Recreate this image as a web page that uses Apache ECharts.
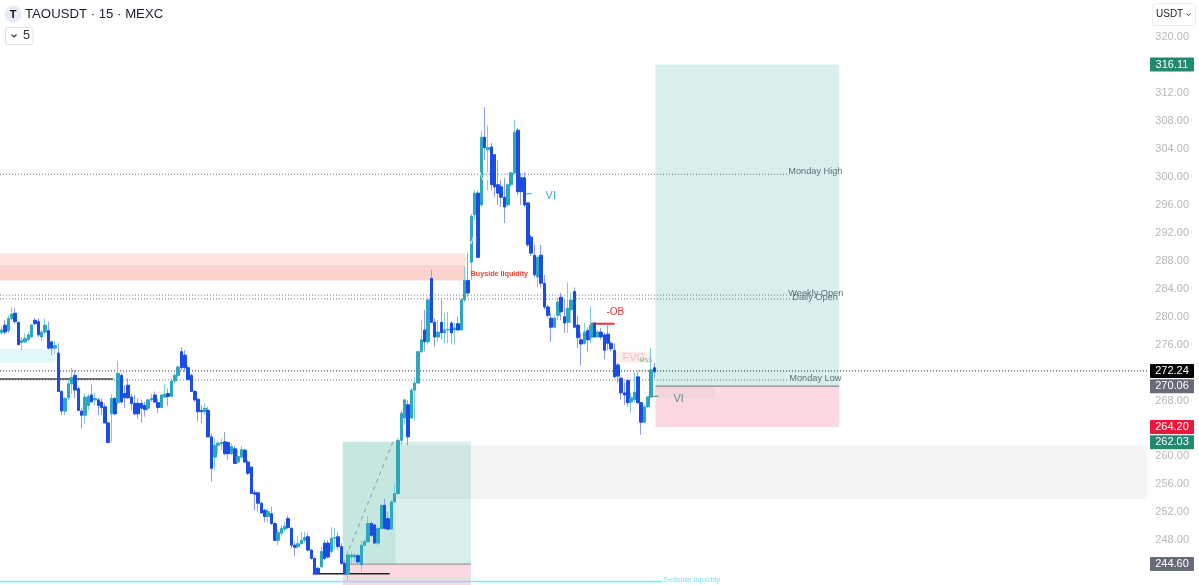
<!DOCTYPE html>
<html><head><meta charset="utf-8">
<script src="https://cdn.jsdelivr.net/npm/echarts@6/dist/echarts.min.js"></script>
<style>html,body{margin:0;padding:0;background:#fff}#c{width:1199px;height:585px}</style>
</head><body><div id="c"></div>
<script>
const opens=[277.7,278.8,278.0,279.75,280.5,279.2,276.3,276.4,276.7,277.1,
279.5,279.3,277.1,277.8,278.0,276.4,275.5,274.8,269.3,266.5,
268.4,270.4,271.6,269.7,266.5,265.9,267.3,268.8,268.1,268.1,
267.8,267.1,264.8,266.1,268.3,267.7,271.6,269.0,270.2,268.5,
267.6,267.6,267.6,267.3,266.9,268.1,268.8,267.7,267.0,268.5,
269.0,268.6,270.8,271.6,275.0,274.5,272.7,271.6,269.3,268.2,
266.6,266.4,266.6,262.8,259.9,261.6,261.8,262.1,262.0,260.4,
261.1,259.2,259.9,260.9,259.2,258.5,254.8,254.8,253.3,252.3,
251.4,251.8,250.4,248.0,249.0,249.6,251.1,249.7,247.3,247.1,
247.5,248.0,248.5,246.6,245.4,244.0,244.2,247.6,247.6,246.4,
248.3,248.5,247.1,244.7,243.2,245.6,245.6,245.8,244.5,247.3,
247.8,250.4,250.2,247.6,249.7,253.0,251.1,249.6,253.5,254.7,
262.3,265.5,267.4,265.5,269.5,270.5,275.0,278.1,276.4,285.5,
279.2,277.1,279.2,277.7,278.1,279.1,278.1,279.0,278.1,282.4,
285.2,287.8,294.6,297.7,296.0,305.7,303.9,304.3,303.2,298.9,
298.6,297.1,296.0,298.9,300.6,306.7,299.9,299.9,296.3,291.4,
288.8,285.7,288.8,284.8,281.4,279.8,278.5,280.2,282.8,280.0,
279.2,281.0,283.6,278.8,276.7,276.2,278.0,277.0,279.1,277.1,
277.8,277.4,277.5,276.2,275.2,273.1,271.2,269.1,270.9,267.8,
268.1,271.4,267.7,264.9,267.1,268.5,272.7];
const closes=[278.1,277.8,279.75,280.4,279.3,276.0,276.6,276.9,277.4,278.8,
279.0,277.4,277.8,278.8,275.5,275.5,275.9,269.3,266.5,268.3,
270.4,271.3,269.5,266.6,265.9,268.5,268.6,267.8,268.3,267.3,
267.0,264.8,262.0,268.3,266.1,271.9,267.8,268.4,268.4,267.6,
266.1,266.1,266.9,266.7,268.1,268.3,267.8,267.0,268.8,268.9,
268.6,270.8,271.6,272.8,272.7,272.7,271.0,269.3,268.1,266.4,
266.4,266.9,262.8,258.3,261.6,261.9,262.0,260.4,260.4,261.4,
259.0,260.0,261.0,259.2,257.6,254.7,254.6,253.3,251.9,251.4,
252.1,250.4,248.0,249.1,249.7,250.0,249.8,247.3,247.0,247.5,
248.0,248.4,246.6,245.4,243.2,243.2,246.4,245.4,245.6,248.3,
248.4,247.1,244.7,243.2,245.9,245.9,245.9,244.9,247.3,247.8,
250.4,248.7,247.6,249.7,253.0,249.7,249.6,253.5,254.7,262.3,
266.2,268.1,262.8,269.5,270.5,275.0,276.7,276.4,282.4,279.2,
277.1,277.8,277.7,278.1,278.2,277.7,278.4,278.1,282.4,285.2,
283.4,294.4,297.7,288.5,305.7,304.2,304.2,298.9,298.6,297.7,
297.1,295.7,298.9,300.6,306.4,297.9,297.9,296.0,290.3,289.1,
286.0,288.5,284.8,281.4,280.2,278.5,279.8,282.1,280.7,279.1,
281.2,282.4,278.5,277.0,276.1,277.8,276.7,278.8,277.1,277.8,
277.1,275.2,276.2,275.4,271.4,271.5,269.1,268.8,267.7,268.4,
269.2,267.7,264.9,267.1,268.5,272.4,272.1];
const highs=[278.6,279.5,280.2,281.4,281.2,279.3,277.1,277.6,277.8,279.0,
279.75,279.75,278.1,279.75,279.3,276.6,276.6,276.2,269.5,268.5,
270.9,272.7,272.4,270.0,266.9,269.0,269.0,270.3,269.1,268.4,
268.3,267.6,265.0,268.9,268.5,273.7,271.9,270.2,271.2,269.0,
268.8,268.3,268.1,267.8,268.2,269.0,269.3,268.3,269.0,270.4,
269.7,271.2,271.9,273.1,275.6,275.2,273.1,271.9,269.5,268.3,
267.3,267.6,267.1,263.3,262.6,262.1,262.6,263.5,262.1,261.9,
261.5,260.9,261.5,261.1,259.5,258.5,255.2,254.9,253.5,252.5,
252.5,252.8,250.6,249.5,250.2,250.6,251.5,249.9,247.8,248.5,
249.2,249.2,249.0,246.8,245.6,244.2,247.1,248.0,248.0,249.9,
249.7,249.2,247.6,244.9,246.6,246.4,246.1,246.1,248.0,248.3,
251.4,250.7,250.4,250.0,253.3,254.0,252.1,253.8,256.1,262.6,
266.6,268.2,268.1,269.8,271.4,275.0,279.5,281.0,282.7,286.7,
279.8,279.5,282.7,280.5,280.7,279.4,279.2,280.0,282.7,287.1,
289.1,294.7,298.1,298.1,306.6,310.0,307.4,304.9,303.2,302.4,
299.6,299.9,299.1,300.7,308.2,307.0,300.6,300.7,296.3,291.7,
290.3,288.8,290.3,286.0,281.7,280.5,280.2,282.7,283.4,282.4,
284.9,283.5,284.2,280.2,277.7,279.1,278.5,281.5,279.2,278.1,
278.4,277.7,278.8,276.5,276.2,273.4,271.4,270.6,270.9,269.1,
272.1,272.1,267.8,267.4,268.6,275.5,273.4];
const lows=[277.4,277.4,277.7,279.5,279.0,275.9,275.2,276.2,276.6,276.9,
278.8,277.1,276.6,277.4,275.3,274.5,274.7,269.3,265.9,265.9,
268.1,269.0,268.3,266.5,264.0,264.7,266.6,267.7,267.3,265.9,
265.9,264.7,261.9,262.0,265.9,267.3,267.6,266.9,268.3,266.6,
265.9,265.4,264.8,265.7,266.5,267.8,267.6,266.2,266.9,268.3,
267.2,268.5,270.4,271.3,272.4,272.1,270.9,269.3,267.8,265.0,
264.8,265.9,262.7,256.4,258.0,260.4,260.9,260.2,259.5,260.2,
258.9,259.0,259.7,259.1,257.3,254.7,252.3,252.1,251.8,250.6,
250.6,250.2,247.9,247.3,248.5,249.2,249.7,246.8,245.7,246.8,
247.6,247.6,246.4,245.2,243.0,243.0,244.0,245.2,245.4,246.1,
246.6,246.6,244.5,243.0,242.3,244.7,244.9,244.6,243.5,247.1,
247.6,248.5,247.5,247.3,249.5,249.5,249.4,249.5,253.3,254.5,
261.6,264.5,261.6,265.5,265.1,270.5,274.8,275.0,276.0,279.1,
275.7,276.4,276.7,276.2,276.2,276.2,276.0,278.0,278.0,282.1,
282.8,285.2,293.8,288.4,295.7,302.4,298.1,298.1,297.1,296.0,
295.7,293.4,295.7,298.6,300.3,297.4,296.0,295.7,290.0,288.7,
285.7,284.2,284.2,281.0,279.8,276.4,278.4,279.5,279.5,277.7,
277.7,279.1,278.4,275.5,273.0,276.0,275.0,276.2,277.0,277.0,
276.7,273.9,275.2,275.0,271.2,270.5,268.1,267.4,267.1,266.2,
267.7,267.5,263.1,264.8,266.9,268.4,271.2];

// price scale and bar-count of the axis
const priceMin=240, priceMax=328, priceStep=4, totalBars=360;

// rectangles: bar index from/to, price from/to
const zoneStart=[0,0,0,118.8,102.9,118.8,102.9,196.8,196.8,196.8,184.2];
const zoneEnd=[16.5,139.8,139.8,344.4,118.8,141.4,141.4,252,252,214.5,195.8];
const zoneHigh=[275.4,289.1,287.4,261.6,262.1,262.1,244.6,316.11,270.06,270.06,275.0];
const zoneLow=[273.4,287.4,285.2,253.9,244.6,244.6,241.6,270.06,264.2,268.4,273.4];

// segments: bar index from/to, price from/to
const segStartBar=[0,0,0,0,0,0,93.9,0,177.3,102.9,196.8,157,194.4,103,191.5];
const segEndBar=[236.5,236.5,238,236.7,345,34,117,199,184.5,141.4,252,159.6,197.7,118,196.5];
const segStartPrice=[300.4,283.1,282.55,270.95,272.24,271.1,243.2,242.1,279.0,244.6,270.06,297.6,268.6,244.6,272.24];
const segEndPrice=[300.4,283.1,282.55,270.95,272.24,271.1,243.2,242.1,279.0,244.6,270.06,297.6,268.6,262.1,272.24];

// annotation labels
const noteText=['VI','VI','Monday High','Weekly Open','Daily Open','Monday Low','Buyside liquidity','Sellside liquidity','VI','VI','-OB','FVG','MSS'];
const noteBar=[144,140.4,236.7,236.7,237.9,237,141.3,199.2,163.8,202.2,182.1,186.9,192];
const notePrice=[300,290.8,300.8,283.3,282.8,271.2,286.1,242.3,297.3,268.2,280.7,274.1,273.7];

// price badges on the right-hand scale
const badgeValues=[316.11,272.24,270.06,264.20,262.03,244.60];

const UP='#2da7bd', DOWN='#1c4de2', UPW='#7fcdd8', DOWNW='#8e9ff0';
const FONT='"Liberation Sans",Arial,sans-serif';
const zoneFill=['#e3f8fb','#fde4e0','#fcd3cc','#f4f4f4','rgba(38,166,140,0.27)','rgba(38,166,154,0.18)','#fbd9e0','rgba(38,166,154,0.18)','#fbd9e0','#f0d6da','#fdeeee'];
const zoneOrder=[3,0,1,2,4,5,6,7,8,9,10];
const segStyle=[
 {stroke:'#777',lineWidth:1,lineDash:[1,2]},{stroke:'#777',lineWidth:1,lineDash:[1,2]},
 {stroke:'#777',lineWidth:1,lineDash:[1,2]},{stroke:'#777',lineWidth:1,lineDash:[1,2]},
 {stroke:'#222',lineWidth:1,lineDash:[1,2]},{stroke:'#444',lineWidth:1.5},
 {stroke:'#222',lineWidth:1.5},{stroke:'#7fe6f2',lineWidth:1.5},
 {stroke:'#e5323f',lineWidth:2},{stroke:'#999',lineWidth:1.2},{stroke:'#8a8a8a',lineWidth:1.2},
 {stroke:'#3f8fb0',lineWidth:1},{stroke:'#6f9496',lineWidth:1.2},
 {stroke:'#8a9a98',lineWidth:1,lineDash:[4,4]},{stroke:'#6cc79a',lineWidth:1,lineDash:[1,2]}];
const noteStyle=[
 {fill:'#d9f2e4',fontSize:10},{fill:'#d9f2e4',fontSize:10},
 {fill:'#5f7074',fontSize:9.2},{fill:'#5f7074',fontSize:9.2},{fill:'#5f7074',fontSize:9.2},{fill:'#5f7074',fontSize:9.2},
 {fill:'#e8432e',fontSize:7.2,fontWeight:'bold'},{fill:'#86e0ec',fontSize:8},
 {fill:'#3ea7c0',fontSize:11},{fill:'#6b8e96',fontSize:11},{fill:'#e5323f',fontSize:10},
 {fill:'#f6bcbc',fontSize:11},{fill:'#6cc79a',fontSize:6}];
const badgeFill={'316.11':'#1f8a70','272.24':'#000','270.06':'#676a78','264.2':'#e8193c','262.03':'#1f8a70','244.6':'#676a78'};

const cats=Array.from({length:totalBars},(_,i)=>i);
const wickData=opens.map((o,i)=>[o,closes[i],lows[i],highs[i]]);
const bodyData=opens.map((o,i)=>[o,closes[i],Math.min(o,closes[i]),Math.max(o,closes[i])]);

const chart=echarts.init(document.getElementById('c'),null,{renderer:'canvas'});
chart.setOption({
 animation:false,
 grid:{left:0,right:0,top:-18.59,bottom:-11.18,containLabel:false,outerBoundsMode:'none'},
 xAxis:[{type:'category',data:cats,show:false,boundaryGap:true},
        {type:'value',min:0,max:totalBars,show:false,splitLine:{show:false}}],
 yAxis:{type:'value',position:'right',min:priceMin,max:priceMax,interval:priceStep,
   axisLine:{show:false},axisTick:{show:false},splitLine:{show:false},
   axisLabel:{inside:true,margin:10,color:'#b7b7b7',fontSize:11,fontFamily:FONT,
     formatter:v=>v>320?'':v.toFixed(2)}},
 series:[
  {type:'custom',xAxisIndex:1,yAxisIndex:0,z:1,clip:false,silent:true,
   data:zoneOrder.map(i=>[zoneStart[i],zoneEnd[i],zoneHigh[i],zoneLow[i],i]),
   encode:{x:[0,1],y:[2,3]},
   renderItem:(p,api)=>{
     const a=api.coord([api.value(0),api.value(2)]),b=api.coord([api.value(1),api.value(3)]);
     return {type:'rect',shape:{x:a[0],y:a[1],width:b[0]-a[0],height:b[1]-a[1]},
       style:{fill:zoneFill[api.value(4)]}};
   }},
  {type:'custom',xAxisIndex:1,yAxisIndex:0,z:2,clip:false,silent:true,
   data:segStartBar.map((s,i)=>[s,segEndBar[i],segStartPrice[i],segEndPrice[i],i]),
   encode:{x:[0,1],y:[2,3]},
   renderItem:(p,api)=>{
     const a=api.coord([api.value(0),api.value(2)]),b=api.coord([api.value(1),api.value(3)]);
     return {type:'line',shape:{x1:a[0],y1:a[1],x2:b[0],y2:b[1]},
       style:Object.assign({fill:null},segStyle[api.value(4)])};
   }},
  {type:'candlestick',xAxisIndex:0,yAxisIndex:0,z:3,silent:true,barWidth:1,data:wickData,
   itemStyle:{color:UPW,color0:DOWNW,borderColor:UPW,borderColor0:DOWNW,borderWidth:1}},
  {type:'candlestick',xAxisIndex:0,yAxisIndex:0,z:4,silent:true,barWidth:3,data:bodyData,
   itemStyle:{color:UP,color0:DOWN,borderColor:UP,borderColor0:DOWN,borderWidth:1}},
  {type:'custom',xAxisIndex:1,yAxisIndex:0,z:5,clip:false,silent:true,
   data:noteBar.map((b,i)=>[b,notePrice[i],i]),encode:{x:0,y:1},
   renderItem:(p,api)=>{
     const i=api.value(2),a=api.coord([api.value(0),api.value(1)]);
     return {type:'text',x:a[0],y:a[1],
       style:Object.assign({text:noteText[i],fontFamily:FONT,align:'left',verticalAlign:'middle'},noteStyle[i])};
   }},
  {type:'custom',xAxisIndex:1,yAxisIndex:0,z:6,clip:false,silent:true,
   data:badgeValues.map(v=>[totalBars,v]),encode:{x:0,y:1},
   renderItem:(p,api)=>{
     const v=api.value(1),y=api.coord([0,v])[1];
     return {type:'group',children:[
       {type:'rect',shape:{x:1150,y:y-7,width:44,height:14,r:1},style:{fill:badgeFill[String(v)]}},
       {type:'text',x:1172,y:y,style:{text:v.toFixed(2),fill:'#fff',fontSize:11,fontFamily:FONT,align:'center',verticalAlign:'middle'}}
     ]};
   }}
 ],
 graphic:[
  {type:'circle',shape:{cx:13,cy:14,r:8.5},style:{fill:'#e6ebf6'},z:20},
  {type:'text',x:13,y:14.5,style:{text:'T',fontFamily:FONT,fontWeight:'bold',fontSize:11,fill:'#111',align:'center',verticalAlign:'middle'},z:21},
  {type:'text',x:25,y:14.5,style:{text:'TAOUSDT · 15 · MEXC',fontFamily:FONT,fontSize:13.2,fill:'#1b1f2a',align:'left',verticalAlign:'middle'},z:21},
  {type:'rect',shape:{x:5.5,y:27.5,width:27.5,height:17,r:2},style:{fill:'#fff',stroke:'#e3e3e3',lineWidth:1},z:20},
  {type:'polyline',shape:{points:[[11.5,34.5],[14,37],[16.5,34.5]]},style:{stroke:'#333',lineWidth:1.1,fill:null},z:21},
  {type:'text',x:23,y:36,style:{text:'5',fontFamily:FONT,fontSize:12.5,fill:'#333',align:'left',verticalAlign:'middle'},z:21},
  {type:'rect',shape:{x:1152.5,y:3.5,width:43,height:22,r:3},style:{fill:'#fff',stroke:'#ececec',lineWidth:1},z:20},
  {type:'text',x:1156,y:14.5,style:{text:'USDT',fontFamily:FONT,fontSize:10,fill:'#222',align:'left',verticalAlign:'middle'},z:21},
  {type:'polyline',shape:{points:[[1186.5,13.5],[1188.5,15.5],[1190.5,13.5]]},style:{stroke:'#333',lineWidth:1,fill:null},z:21}
 ]
});
</script></body></html>
